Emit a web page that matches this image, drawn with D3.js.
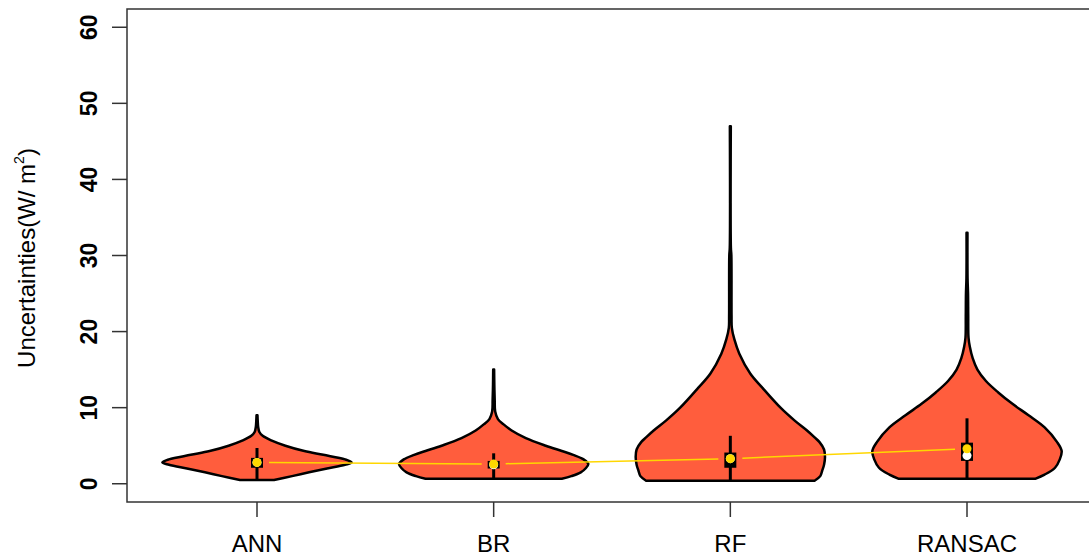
<!DOCTYPE html>
<html>
<head>
<meta charset="utf-8">
<script src="https://cdn.jsdelivr.net/npm/d3@7"></script>
<style>
  body { margin: 0; background: #fff; }
  svg { display: block; font-family: "Liberation Sans", Arial, sans-serif; }
</style>
</head>
<body>
<svg width="1089" height="558"></svg>
<script>
// categories and values
const categories = ['ANN', 'BR', 'RF', 'RANSAC'];
const yTicks = [0, 10, 20, 30, 40, 50, 60];

// violin outlines: value levels and relative density (1 = widest)
const annLevels = [0.5, 1.0, 1.5, 2.0, 2.5, 2.8, 3.2, 3.8, 4.3, 5.0, 5.7, 6.3, 6.8, 7.5, 8.2, 9.0];
const annDensity = [0.18, 0.37, 0.55, 0.74, 0.93, 1.0, 0.93, 0.7, 0.5, 0.3, 0.15, 0.06, 0.025, 0.012, 0.008, 0.005];
const brLevels = [0.65, 1.0, 1.5, 2.0, 2.6, 3.2, 3.8, 4.3, 5.0, 6.0, 7.0, 7.8, 8.5, 9.5, 11, 13, 15];
const brDensity = [0.72, 0.82, 0.92, 0.97, 1.0, 0.95, 0.84, 0.72, 0.55, 0.34, 0.19, 0.105, 0.045, 0.016, 0.011, 0.007, 0.005];
const rfLevels = [0.4, 1.0, 1.7, 2.5, 3.5, 4.5, 5.5, 6.1, 7.0, 8.3, 10, 12.6, 14.5, 17.1, 19, 20.5, 22, 30, 31, 47];
const rfDensity = [0.89, 0.95, 0.97, 0.99, 1.0, 0.99, 0.94, 0.89, 0.81, 0.68, 0.53, 0.34, 0.21, 0.095, 0.042, 0.016, 0.013, 0.011, 0.006, 0.005];
const ransacLevels = [0.65, 1.2, 2.1, 3.2, 4.3, 5.5, 7.4, 9, 10.5, 12, 13.5, 15, 16.5, 18, 19.2, 22, 25, 27, 33];
const ransacDensity = [0.72, 0.82, 0.93, 0.98, 1.0, 0.95, 0.82, 0.65, 0.48, 0.33, 0.2, 0.11, 0.06, 0.03, 0.016, 0.013, 0.011, 0.006, 0.005];

// box statistics
const q1 = [2.1, 2.0, 2.1, 3.0];
const q3 = [3.4, 3.0, 4.1, 5.4];
const whiskerLow = [0.5, 0.65, 0.4, 0.65];
const whiskerHigh = [4.7, 4.0, 6.3, 8.6];
const medians = [2.8, 2.5, 3.3, 3.7];
const means = [2.8, 2.6, 3.3, 4.6];

function whenLoaded() {
const levels = [annLevels, brLevels, rfLevels, ransacLevels];
const densities = [annDensity, brDensity, rfDensity, ransacDensity];

const svg = d3.select('svg');
const plotLeft = 127, plotTop = 9, plotRight = 1092, plotBottom = 502;

const x = d3.scaleLinear().domain([1, 4]).range([257, 967]);
const y = d3.scaleLinear().domain([-2.4, 62.4]).range([plotBottom, plotTop]);
const unit = x(2) - x(1);

// violins
const area = d3.area()
  .curve(d3.curveCatmullRom)
  .y(d => y(d.v))
  .x0(d => d.c - d.w * 0.4 * unit)
  .x1(d => d.c + d.w * 0.4 * unit);

categories.forEach((cat, i) => {
  const pts = levels[i].map((v, j) => ({ v, w: densities[i][j], c: x(i + 1) }));
  svg.append('path')
    .attr('d', area(pts))
    .attr('fill', '#FF5D3D')
    .attr('stroke', '#000')
    .attr('stroke-width', 2.5)
    .attr('stroke-linejoin', 'round');
});

// whiskers and boxes
const g = svg.append('g');
g.selectAll('line.whisker').data(categories).enter().append('line')
  .attr('x1', (d, i) => x(i + 1)).attr('x2', (d, i) => x(i + 1))
  .attr('y1', (d, i) => y(whiskerLow[i])).attr('y2', (d, i) => y(whiskerHigh[i]))
  .attr('stroke', '#000').attr('stroke-width', 3);
g.selectAll('rect.box').data(categories).enter().append('rect')
  .attr('x', (d, i) => x(i + 1) - 6).attr('width', 12)
  .attr('y', (d, i) => y(q3[i])).attr('height', (d, i) => y(q1[i]) - y(q3[i]))
  .attr('fill', '#000');
g.selectAll('circle.median').data(categories).enter().append('circle')
  .attr('cx', (d, i) => x(i + 1)).attr('cy', (d, i) => y(medians[i]))
  .attr('r', 4.5).attr('fill', '#fff');

// mean line, drawn with gaps like type = "b"
const gap = 12;
for (let i = 0; i < means.length - 1; i++) {
  const x0 = x(i + 1), y0 = y(means[i]), x1 = x(i + 2), y1 = y(means[i + 1]);
  const len = Math.hypot(x1 - x0, y1 - y0);
  const ux = (x1 - x0) / len, uy = (y1 - y0) / len;
  svg.append('line')
    .attr('x1', x0 + ux * gap).attr('y1', y0 + uy * gap)
    .attr('x2', x1 - ux * gap).attr('y2', y1 - uy * gap)
    .attr('stroke', '#FFD700').attr('stroke-width', 1.5);
}
svg.selectAll('circle.mean').data(means).enter().append('circle')
  .attr('cx', (d, i) => x(i + 1)).attr('cy', d => y(d))
  .attr('r', 4.5).attr('fill', '#FFD700');

// plot frame
svg.append('rect')
  .attr('x', plotLeft).attr('y', plotTop)
  .attr('width', plotRight - plotLeft).attr('height', plotBottom - plotTop)
  .attr('fill', 'none').attr('stroke', '#333').attr('stroke-width', 1.5);

// y axis
const yAxis = svg.append('g');
yAxis.selectAll('line').data(yTicks).enter().append('line')
  .attr('x1', plotLeft - 15).attr('x2', plotLeft)
  .attr('y1', d => y(d)).attr('y2', d => y(d))
  .attr('stroke', '#333').attr('stroke-width', 1.5);
yAxis.selectAll('text').data(yTicks).enter().append('text')
  .attr('transform', d => `translate(97,${y(d)}) rotate(-90)`)
  .attr('text-anchor', 'middle')
  .attr('font-size', 23).attr('font-weight', 'bold')
  .text(d => d);

// x axis
const xAxis = svg.append('g');
xAxis.selectAll('line').data(categories).enter().append('line')
  .attr('x1', (d, i) => x(i + 1)).attr('x2', (d, i) => x(i + 1))
  .attr('y1', plotBottom).attr('y2', plotBottom + 15)
  .attr('stroke', '#333').attr('stroke-width', 1.5);
xAxis.selectAll('text').data(categories).enter().append('text')
  .attr('x', (d, i) => x(i + 1)).attr('y', 552)
  .attr('text-anchor', 'middle')
  .attr('font-size', 24)
  .text(d => d);

// y title
const title = svg.append('text')
  .attr('transform', 'translate(35,258) rotate(-90)')
  .attr('text-anchor', 'middle')
  .attr('font-size', 24);
title.append('tspan').text('Uncertainties(W/ m');
title.append('tspan').attr('font-size', 14).attr('dy', -11).text('2');
title.append('tspan').attr('dy', 11).text(')');
}

window.onload = whenLoaded;
</script>
</body>
</html>
